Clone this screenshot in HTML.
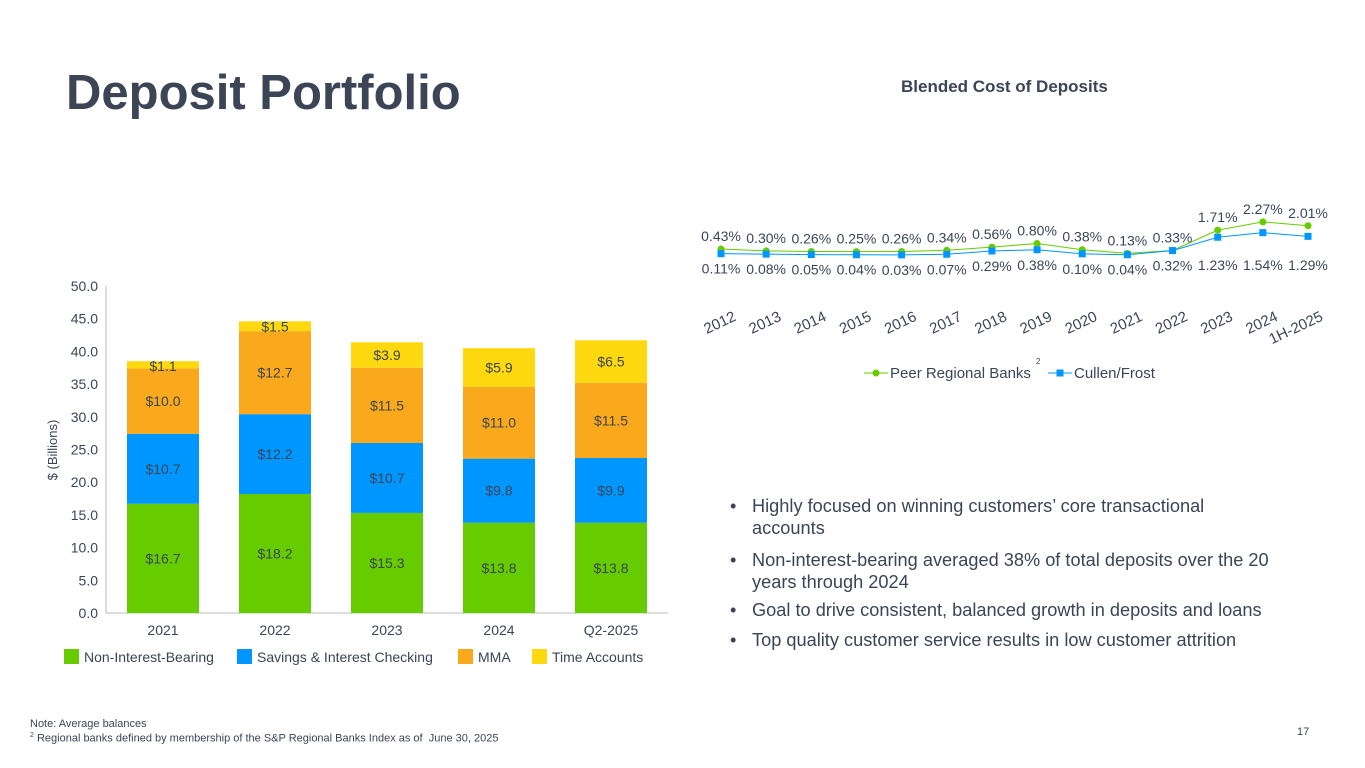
<!DOCTYPE html>
<html><head><meta charset="utf-8">
<style>
body{margin:0;background:#fff;font-family:"Liberation Sans",sans-serif;}
#root{position:relative;width:1365px;height:768px;overflow:hidden;background:#fff;}
.t{position:absolute;white-space:nowrap;}
</style></head>
<body>
<div id="root">
<div class="t" style="left:66px;top:65px;font-size:49px;font-weight:bold;color:#3b4556;letter-spacing:0px;">Deposit Portfolio</div>
<div class="t" style="left:901px;top:77px;font-size:17px;font-weight:bold;color:#3b4556;">Blended Cost of Deposits</div>

<svg id="bar" width="1365" height="768" style="position:absolute;left:0;top:0;"></svg>

<div style="position:absolute;left:730px;top:495px;font-size:18.2px;color:#3b4556;line-height:22px;width:620px;">
<div style="position:absolute;top:0;left:0;">•</div><div style="position:absolute;top:0;left:22px;">Highly focused on winning customers’ core transactional<br>accounts</div>
<div style="position:absolute;top:54px;left:0;">•</div><div style="position:absolute;top:54px;left:22px;">Non-interest-bearing averaged 38% of total deposits over the 20<br>years through 2024</div>
<div style="position:absolute;top:104px;left:0;">•</div><div style="position:absolute;top:104px;left:22px;">Goal to drive consistent, balanced growth in deposits and loans</div>
<div style="position:absolute;top:134px;left:0;">•</div><div style="position:absolute;top:134px;left:22px;">Top quality customer service results in low customer attrition</div>
</div>
<div class="t" style="left:30px;top:718px;font-size:11px;color:#3b4556;">Note: Average balances</div>
<div class="t" style="left:30px;top:732px;font-size:11px;color:#3b4556;"><sup style="font-size:7px">2</sup> Regional banks defined by membership of the S&amp;P Regional Banks Index as of&nbsp; June 30, 2025</div>
<div class="t" style="left:1297px;top:726px;font-size:11px;color:#3b4556;">17</div>
</div>
<script>
const barCategories=["2021","2022","2023","2024","Q2-2025"];
const nonInterest=[16.7,18.2,15.3,13.8,13.8];
const savings=[10.7,12.2,10.7,9.8,9.9];
const mma=[10.0,12.7,11.5,11.0,11.5];
const timeAcc=[1.1,1.5,3.9,5.9,6.5];
const barTicks=[0,5,10,15,20,25,30,35,40,45,50];
const lineCategories=["2012","2013","2014","2015","2016","2017","2018","2019","2020","2021","2022","2023","2024","1H-2025"];
const peerRates=[0.43,0.30,0.26,0.25,0.26,0.34,0.56,0.80,0.38,0.13,0.33,1.71,2.27,2.01];
const frostRates=[0.11,0.08,0.05,0.04,0.03,0.07,0.29,0.38,0.10,0.04,0.32,1.23,1.54,1.29];

const NS="http://www.w3.org/2000/svg";
const svg=document.getElementById('bar');
function mk(tag,attrs,parent){const e=document.createElementNS(NS,tag);for(const k in attrs)e.setAttribute(k,attrs[k]);(parent||svg).appendChild(e);return e;}
const txtC="#3b4556";
const y0=613,yTop=286,yMax=50;
const ys=v=>y0-(v/yMax)*(y0-yTop);
const axL=106,band=112;
const xc=i=>axL+band*i+57;
barTicks.forEach(t=>{const e=mk('text',{x:98,y:ys(t)+5,'text-anchor':'end','font-size':14,fill:txtC});e.textContent=t.toFixed(1);

});
const ax=mk('line',{x1:axL,y1:yTop,x2:axL,y2:y0,stroke:'#bbb'});


const xa=mk('line',{x1:axL,y1:y0,x2:668,y2:y0,stroke:'#bbb'});


const yt=mk('text',{x:0,y:0,transform:'translate(57,450) rotate(-90)','text-anchor':'middle','font-size':13,fill:txtC});yt.textContent='$ (Billions)';


const series=[[nonInterest,'#66cc00','non-interest'],[savings,'#0096ff','savings'],[mma,'#f9a91b','mma'],[timeAcc,'#ffd90f','time']];
barCategories.forEach((c,i)=>{
 let base=0;
 series.forEach(([arr,col,nm])=>{
  const v=arr[i];const yT=ys(base+v),yB=ys(base);
  const r=mk('rect',{x:xc(i)-36,y:yT,width:72,height:yB-yT,fill:col});
  
  
  const ly=nm==='time'&&v<2?yT+10:(yT+yB)/2+5;
  const l=mk('text',{x:xc(i),y:ly,'text-anchor':'middle','font-size':14,fill:txtC});l.textContent='$'+v.toFixed(1);
  
  
  base+=v;});
 const xl=mk('text',{x:xc(i),y:635,'text-anchor':'middle','font-size':14,fill:txtC});xl.textContent=c;
 
 
});
const leg=[['Non-Interest-Bearing','#66cc00',64],['Savings & Interest Checking','#0096ff',237],['MMA','#f9a91b',458],['Time Accounts','#ffd90f',532]];
leg.forEach(([t,c,x])=>{const r=mk('rect',{x:x,y:649,width:15,height:15,fill:c});


const e=mk('text',{x:x+20,y:662,'font-size':14,fill:txtC});e.textContent=t;

});
const lx0=721,lx1=1308;
const lx=i=>lx0+(lx1-lx0)*i/(lineCategories.length-1);
const lz=255.3,lk=14.7;
const ly=v=>lz-v*lk;
function poly(arr,col,nm){const p=mk('polyline',{points:arr.map((v,i)=>lx(i)+','+ly(v)).join(' '),fill:'none',stroke:col,'stroke-width':1});

}
poly(peerRates,'#66cc00','peer');poly(frostRates,'#0096ff','frost');
peerRates.forEach((v,i)=>{const c=mk('circle',{cx:lx(i),cy:ly(v),r:3.5,fill:'#66cc00'});


const t=mk('text',{x:lx(i),y:ly(v)-8,'text-anchor':'middle','font-size':14,fill:txtC});t.textContent=v.toFixed(2)+'%';

});
frostRates.forEach((v,i)=>{const s=mk('rect',{x:lx(i)-3.5,y:ly(v)-3.5,width:7,height:7,fill:'#0096ff'});


const t=mk('text',{x:lx(i),y:Math.max(ly(v),250)+20,'text-anchor':'middle','font-size':14,fill:txtC});t.textContent=v.toFixed(2)+'%';

});
lineCategories.forEach((c,i)=>{const t=mk('text',{x:0,y:0,transform:'translate('+(lx(i)+16)+',320) rotate(-25)','text-anchor':'end','font-size':15,fill:txtC});t.textContent=c;

});
mk('line',{x1:864,y1:373,x2:888,y2:373,stroke:'#66cc00'});
const lg1=mk('circle',{cx:876,cy:373,r:3.5,fill:'#66cc00'});


const lt1=mk('text',{x:890,y:378,'font-size':15,fill:txtC});lt1.textContent='Peer Regional Banks';


const sup=mk('text',{x:1036,y:364,'font-size':8,fill:txtC});sup.textContent='2';


mk('line',{x1:1048,y1:373,x2:1072,y2:373,stroke:'#0096ff'});
const lg2=mk('rect',{x:1056.5,y:369.5,width:7,height:7,fill:'#0096ff'});


const lt2=mk('text',{x:1074,y:378,'font-size':15,fill:txtC});lt2.textContent='Cullen/Frost';


</script>
</body></html>
